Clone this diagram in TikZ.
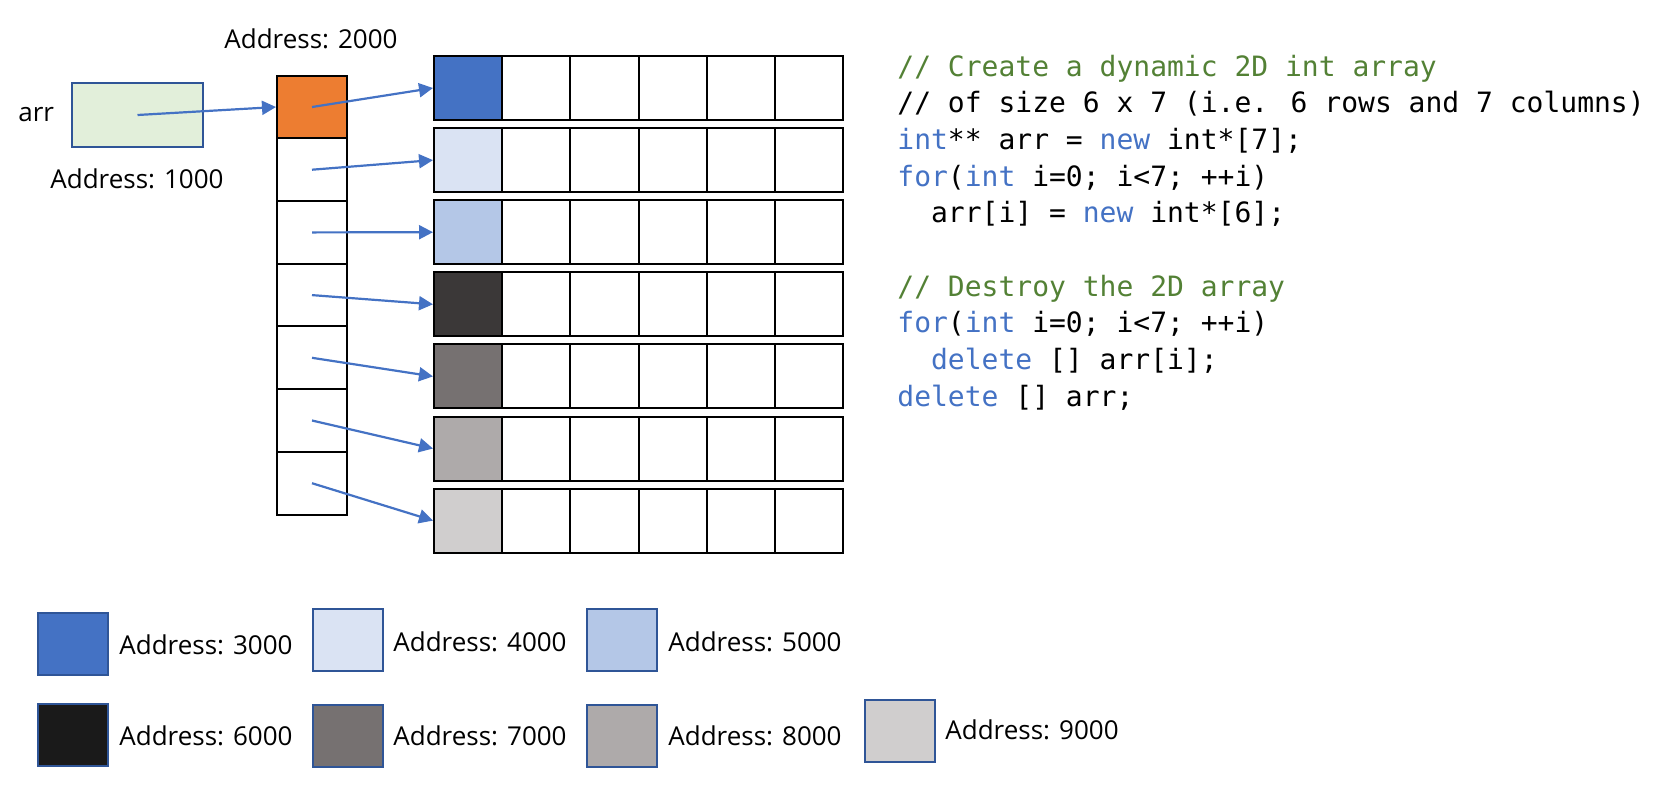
\documentclass[tikz,border=0pt]{standalone}
\usepackage{fontspec}
\setmainfont{Open Sans}
\newfontfamily\codefont{DejaVu Sans Mono}
\usetikzlibrary{arrows.meta}
\definecolor{kwblue}{HTML}{4472C4}
\definecolor{cmtgreen}{HTML}{538135}
\definecolor{legborder}{HTML}{2F5597}
\definecolor{arrfill}{HTML}{E2EFDA}
\definecolor{ptrorange}{HTML}{ED7D31}
\definecolor{cA}{HTML}{4472C4}
\definecolor{cB}{HTML}{DAE3F3}
\definecolor{cC}{HTML}{B4C7E7}
\definecolor{cD}{HTML}{3B3838}
\definecolor{cDleg}{HTML}{1A1A1A}
\definecolor{cE}{HTML}{767171}
\definecolor{cF}{HTML}{AEAAAA}
\definecolor{cG}{HTML}{D0CECE}
\tikzset{
  ptrcell/.style={draw=black, line width=1pt, minimum width=35pt, minimum height=31.35pt, inner sep=0pt},
  rowcell/.style={draw=black, line width=1pt, minimum width=34.08pt, minimum height=32pt, inner sep=0pt},
  legbox/.style={draw=legborder, line width=1pt, minimum width=35pt, minimum height=31pt, inner sep=0pt},
  lbl/.style={font=\fontsize{13}{15}\selectfont, inner sep=0pt, anchor=base west},
  codeline/.style={font=\fontsize{14}{17}\codefont, inner sep=0pt, anchor=base west},
  ptr/.style={draw=kwblue, line width=1.1pt, -{Triangle[length=7pt,width=7pt]}}
}
\begin{document}
\begin{tikzpicture}[x=0.5pt,y=-0.5pt]
\useasboundingbox (0,0) rectangle (1659,804);

% arr variable
\node[draw=legborder, line width=1pt, fill=arrfill, minimum width=65.5pt, minimum height=32pt, inner sep=0pt] (arrbox) at (137.5,115) {};
\node[lbl] (arrlbl) at (18,121) {arr};
\node[lbl] (addr1000) at (50,188) {Address: 1000};
\node[lbl] (addr2000) at (224,48) {Address: 2000};

% rows of the 2D array
\foreach \i/\col in {1/cA,2/cB,3/cC,4/cD,5/cE,6/cF,7/cG} {
  \foreach \j in {1,...,6} {
    \pgfmathsetmacro\cx{434+68.17*(\j-0.5)}
    \pgfmathsetmacro\cy{88+72.1*(\i-1)}
    \ifnum\j=1 \def\fc{\col}\else\def\fc{white}\fi
    \node[rowcell, fill=\fc] (r\i-\j) at (\cx,\cy) {};
  }
}

% pointer column
\foreach \i in {1,...,7} {
  \pgfmathsetmacro\py{107+62.7*(\i-1)}
  \ifnum\i=1 \def\fc{ptrorange}\else\def\fc{white}\fi
  \node[ptrcell, fill=\fc] (p\i) at (312,\py) {};
}

% arrows
\draw[ptr] (arrbox.center) -- (p1.west);
\foreach \i in {1,...,7} {
  \draw[ptr] (p\i.center) -- (r\i-1.west);
}

% code
\node[codeline] (c1) at (897,76) {\color{cmtgreen}// Create a dynamic 2D int array};
\node[codeline] (c2) at (897,112.7) {// of size 6 x 7 (i.e. 6 rows and 7 columns)};
\node[codeline] (c3) at (897,149.3) {\textcolor{kwblue}{int}** arr = \textcolor{kwblue}{new} int*[7];};
\node[codeline] (c4) at (897,186) {\textcolor{kwblue}{for}(\textcolor{kwblue}{int} i=0; i<7; ++i)};
\node[codeline] (c5) at (897,222.7) {\phantom{aa}arr[i] = \textcolor{kwblue}{new} int*[6];};
\node[codeline] (c6) at (897,296) {\color{cmtgreen}// Destroy the 2D array};
\node[codeline] (c7) at (897,332.7) {\textcolor{kwblue}{for}(\textcolor{kwblue}{int} i=0; i<7; ++i)};
\node[codeline] (c8) at (897,369.3) {\phantom{aa}\textcolor{kwblue}{delete} [] arr[i];};
\node[codeline] (c9) at (897,406) {\textcolor{kwblue}{delete} [] arr;};

% legend
\node[legbox, fill=cA] (l1) at (72.5,643.5) {};
\node[legbox, fill=cB] (l2) at (347.5,639.5) {};
\node[legbox, fill=cC] (l3) at (622,639.5) {};
\node[legbox, fill=cDleg] (l4) at (72.5,735) {};
\node[legbox, fill=cE] (l5) at (347.5,735.5) {};
\node[legbox, fill=cF] (l6) at (622,735.5) {};
\node[legbox, fill=cG] (l7) at (900,730.5) {};
\node[lbl] (t1) at (119,654) {Address: 3000};
\node[lbl] (t2) at (393,651) {Address: 4000};
\node[lbl] (t3) at (668,651) {Address: 5000};
\node[lbl] (t4) at (119,745.5) {Address: 6000};
\node[lbl] (t5) at (393,745) {Address: 7000};
\node[lbl] (t6) at (668,745) {Address: 8000};
\node[lbl] (t7) at (945,739) {Address: 9000};
\end{tikzpicture}
\end{document}
